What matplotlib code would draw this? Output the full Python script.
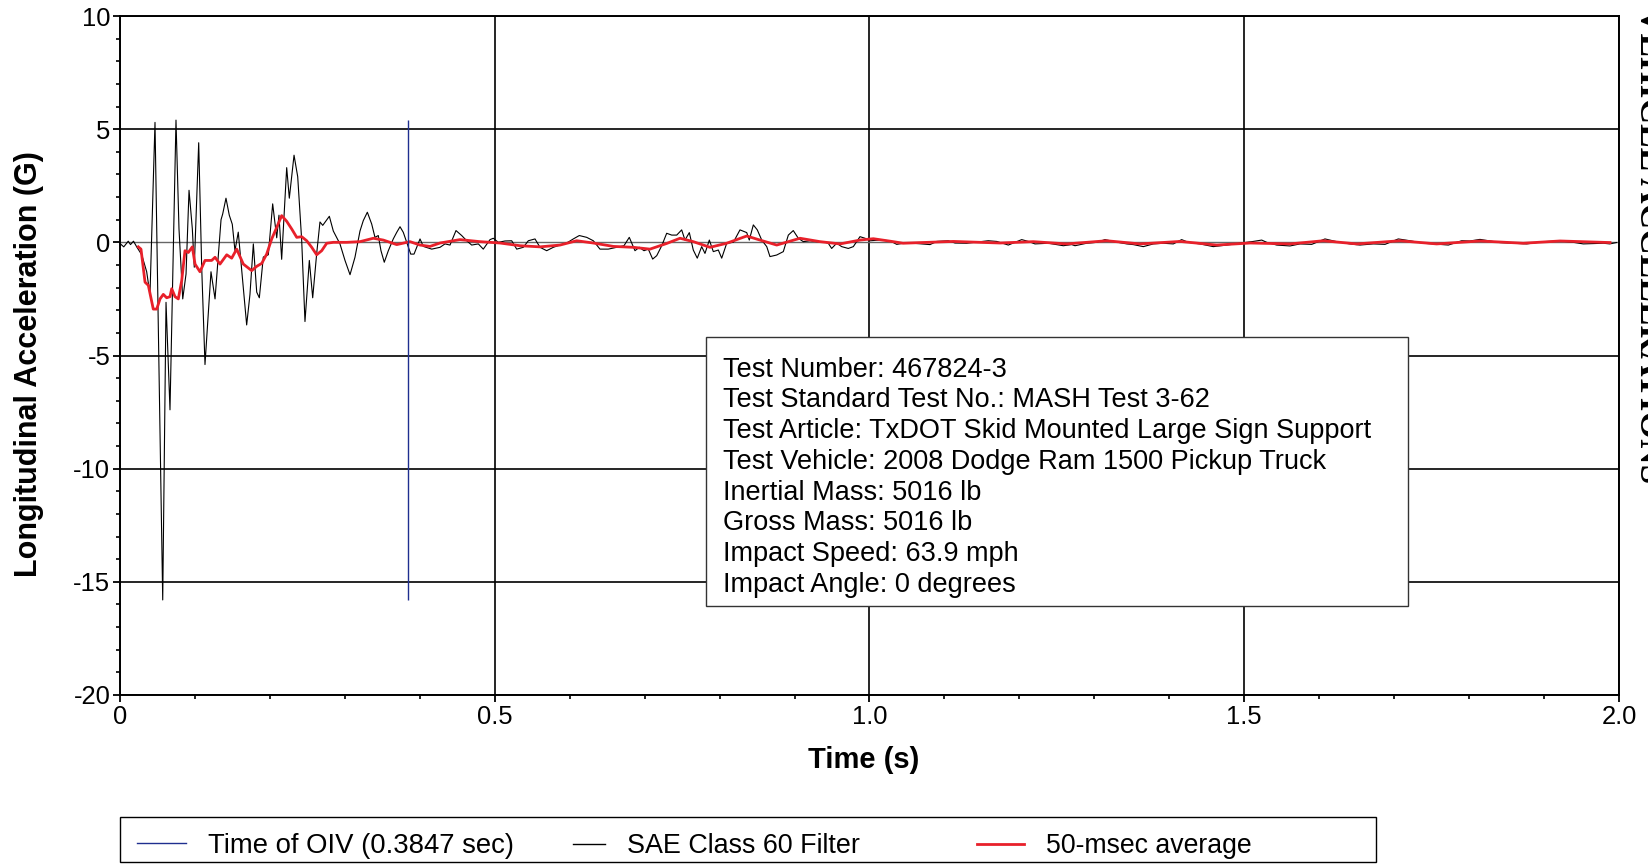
import matplotlib
matplotlib.use("Agg")
import matplotlib.pyplot as plt
from matplotlib.lines import Line2D
from matplotlib.patches import Rectangle

plt.rcParams['axes.unicode_minus'] = False
plt.rcParams['font.family'] = ['Liberation Sans', 'DejaVu Sans']

# ---------------- data ----------------
oiv_time = 0.3847

sae_t = [0.000, 0.005, 0.011, 0.014, 0.018, 0.0223, 0.0290, 0.0356, 0.0400, 0.0467,
         0.0570, 0.0614, 0.0667, 0.0747, 0.0787, 0.0837, 0.0881, 0.0921, 0.0965, 0.0991,
         0.1050, 0.1090, 0.1134, 0.1214, 0.1268, 0.1348, 0.1370, 0.1414, 0.1458, 0.1498,
         0.1534, 0.1578, 0.1624, 0.1690, 0.1734, 0.1779, 0.1824, 0.1859, 0.1912, 0.1979,
         0.2037, 0.2091, 0.2121, 0.2157, 0.2224, 0.2259, 0.2322, 0.2371, 0.2424, 0.2468,
         0.2526, 0.2571, 0.2624, 0.2668, 0.2705, 0.2749, 0.2793, 0.2846, 0.2935, 0.3002,
         0.3069, 0.3135, 0.3202, 0.3246, 0.3300, 0.3358, 0.3402, 0.3446, 0.3482, 0.3526,
         0.3580, 0.3646, 0.3692, 0.3736, 0.3780, 0.3833, 0.3879, 0.3923, 0.3959, 0.4003,
         0.4047, 0.4159, 0.4270, 0.4336, 0.4403, 0.4483, 0.4559, 0.4626, 0.4692, 0.4781,
         0.4847, 0.4937, 0.4981, 0.5047, 0.5137, 0.5226, 0.5293, 0.5381, 0.5448, 0.5537,
         0.5604, 0.5693, 0.5781, 0.5871, 0.5960, 0.6048, 0.6128, 0.6227, 0.6315, 0.6404,
         0.6515, 0.6627, 0.6724, 0.6795, 0.6871, 0.6929, 0.6991, 0.7049, 0.7107, 0.7161,
         0.7228, 0.7294, 0.7361, 0.7428, 0.7494, 0.7538, 0.7596, 0.7649, 0.7702, 0.7761,
         0.7805, 0.7863, 0.7916, 0.7983, 0.8028, 0.8095, 0.8183, 0.8272, 0.8362, 0.8396,
         0.8450, 0.8503, 0.8562, 0.8629, 0.8672, 0.8762, 0.8850, 0.8917, 0.8983, 0.9050,
         0.9117, 0.9206, 0.9295, 0.9384, 0.9450, 0.9495, 0.9562, 0.9629, 0.9717, 0.9784,
         0.9873, 0.9940, 1.0007, 1.0140, 1.0273, 1.0363, 1.0451, 1.0585, 1.0807, 1.0897,
         1.1052, 1.1141, 1.1297, 1.1585, 1.1697, 1.1852, 1.1941, 1.2031, 1.2119, 1.2208,
         1.2386, 1.2586, 1.2698, 1.2742, 1.2898, 1.3031, 1.3142, 1.3253, 1.3432, 1.3520,
         1.3653, 1.3787, 1.3920, 1.4053, 1.4165, 1.4254, 1.4410, 1.4587, 1.4766, 1.4943,
         1.5121, 1.5233, 1.5300, 1.5433, 1.5610, 1.5744, 1.5900, 1.6077, 1.6233, 1.6411,
         1.6544, 1.6722, 1.6878, 1.7055, 1.7212, 1.7389, 1.7523, 1.7723, 1.7901, 1.8012,
         1.8145, 1.8279, 1.8412, 1.8590, 1.8769, 1.8990, 1.9213, 1.9390, 1.9524, 1.9791,
         1.9877, 1.9966]
sae_g = [-0.05, -0.20, 0.05, -0.10, 0.05, -0.20, -0.55, -1.30, -2.30, 5.30,
         -15.80, -2.65, -7.40, 5.40, 0.60, -2.50, -1.40, 2.30, 0.60, -1.10,
         4.40, -1.10, -5.40, -1.30, -2.50, 1.00, 1.25, 1.95, 1.20, 0.80,
         -0.37, 0.45, -1.25, -3.65, -2.30, -0.07, -2.20, -2.45, -0.65, -0.55,
         1.70, 0.20, 1.20, -0.75, 3.30, 1.95, 3.85, 2.90, 0.10, -3.50,
         -0.80, -2.45, -0.50, 0.90, 0.75, 0.95, 1.15, 0.50, -0.07, -0.80,
         -1.43, -0.66, 0.50, 0.96, 1.33, 0.81, 0.22, 0.30, -0.37, -0.88,
         -0.37, 0.15, 0.44, 0.69, 0.44, -0.07, -0.52, -0.52, -0.22, 0.15,
         -0.18, -0.30, -0.22, -0.07, -0.12, 0.52, 0.30, 0.07, -0.12, -0.07,
         -0.30, 0.12, 0.18, 0.00, 0.06, 0.07, -0.30, -0.22, 0.07, 0.15,
         -0.22, -0.37, -0.22, -0.12, -0.03, 0.15, 0.30, 0.22, 0.07, -0.30,
         -0.30, -0.22, -0.15, 0.22, -0.37, -0.22, -0.37, -0.30, -0.74, -0.59,
         -0.15, 0.40, 0.32, 0.32, 0.55, 0.10, 0.43, -0.34, -0.70, -0.19,
         -0.49, 0.10, -0.41, -0.34, -0.70, -0.04, 0.00, 0.55, 0.43, 0.10,
         0.77, 0.55, 0.10, -0.19, -0.63, -0.56, -0.41, 0.32, 0.52, 0.18,
         0.03, 0.07, 0.03, 0.03, -0.04, -0.27, -0.04, -0.19, -0.27, -0.19,
         0.25, 0.18, 0.07, 0.10, 0.07, -0.09, -0.04, -0.04, -0.10, 0.04,
         0.07, -0.03, -0.04, 0.07, 0.04, -0.12, 0.00, 0.12, 0.04, -0.07,
         -0.04, -0.15, -0.10, -0.15, -0.04, 0.00, 0.12, 0.04, -0.07, -0.10,
         -0.19, -0.07, -0.04, -0.07, 0.12, 0.00, -0.07, -0.19, -0.12, -0.04,
         0.04, 0.10, 0.00, -0.12, -0.16, -0.07, -0.09, 0.15, 0.03, -0.07,
         -0.12, -0.07, -0.09, 0.15, 0.07, -0.04, -0.07, -0.12, 0.07, 0.06,
         0.13, 0.06, -0.01, -0.04, -0.07, 0.03, 0.06, 0.00, -0.07, -0.04,
         -0.07, -0.01]

avg_t = [0.0244, 0.0280, 0.0334, 0.0378, 0.0444, 0.0490, 0.0534, 0.0578, 0.0623, 0.0667,
         0.0690, 0.0734, 0.0778, 0.0823, 0.0867, 0.0911, 0.0965, 0.1001, 0.1067, 0.1134,
         0.1223, 0.1268, 0.1334, 0.1424, 0.1490, 0.1557, 0.1645, 0.1757, 0.1824, 0.1891,
         0.1957, 0.2024, 0.2091, 0.2157, 0.2224, 0.2291, 0.2358, 0.2424, 0.2491, 0.2558,
         0.2624, 0.2691, 0.2758, 0.2846, 0.3025, 0.3202, 0.3380, 0.3513, 0.3692, 0.3869,
         0.4003, 0.4136, 0.4270, 0.4536, 0.4803, 0.5070, 0.5337, 0.5604, 0.5871, 0.6093,
         0.6315, 0.6582, 0.6849, 0.7071, 0.7294, 0.7472, 0.7649, 0.7872, 0.8095, 0.8362,
         0.8539, 0.8762, 0.9073, 0.9340, 0.9607, 0.9873, 1.0051, 1.0318, 1.0447, 1.1119,
         1.1741, 1.2186, 1.2631, 1.3165, 1.3609, 1.4143, 1.4632, 1.5077, 1.5610, 1.6055,
         1.6500, 1.7078, 1.7567, 1.8145, 1.8723, 1.9213, 1.9880]
avg_g = [-0.20, -0.30, -1.76, -1.90, -2.95, -2.95, -2.50, -2.30, -2.45, -2.40,
         -2.05, -2.40, -2.50, -1.70, -0.37, -0.45, -0.20, -0.96, -1.30, -0.80,
         -0.80, -0.66, -0.96, -0.55, -0.70, -0.30, -0.96, -1.25, -1.06, -0.93,
         -0.52, 0.15, 0.66, 1.18, 0.93, 0.59, 0.22, 0.25, 0.07, -0.22,
         -0.55, -0.37, -0.04, 0.00, 0.00, 0.03, 0.18, 0.10, -0.10, 0.03,
         -0.12, -0.18, -0.03, 0.12, 0.03, -0.03, -0.15, -0.20, -0.12, 0.07,
         -0.03, -0.18, -0.22, -0.30, -0.05, 0.18, 0.03, -0.22, -0.04, 0.28,
         0.10, -0.12, 0.18, 0.03, -0.07, 0.10, 0.16, 0.03, -0.04, 0.04,
         -0.03, 0.03, -0.07, 0.07, -0.07, 0.04, -0.12, -0.03, -0.07, 0.07,
         -0.07, 0.07, -0.07, 0.06, -0.04, 0.06, -0.01]

x_ticks = [0, 0.5, 1.0, 1.5, 2.0]
x_tick_labels = ['0', '0.5', '1.0', '1.5', '2.0']
y_ticks = [-20, -15, -10, -5, 0, 5, 10]

info_lines = [
    "Test Number: 467824-3",
    "Test Standard Test No.: MASH Test 3-62",
    "Test Article: TxDOT Skid Mounted Large Sign Support",
    "Test Vehicle: 2008 Dodge Ram 1500 Pickup Truck",
    "Inertial Mass: 5016 lb",
    "Gross Mass: 5016 lb",
    "Impact Speed: 63.9 mph",
    "Impact Angle: 0 degrees",
]
legend_labels = ["Time of OIV (0.3847 sec)", "SAE Class 60 Filter", "50-msec average"]

# ---------------- figure ----------------
W, H = 1648, 864
fig = plt.figure(figsize=(W / 100, H / 100), dpi=100)
ax = fig.add_axes([120 / W, 1 - 695 / H, 1499 / W, 679 / H])

blue = '#1f2f8f'
red = '#e8202a'

ax.plot(sae_t, sae_g, color='black', lw=0.8, zorder=3)
ax.plot(avg_t, avg_g, color=red, lw=2.0, zorder=4)
ax.vlines(oiv_time, min(sae_g), max(sae_g), color=blue, lw=1.0, zorder=5)

ax.set_xlim(0, 2.0)
ax.set_ylim(-20, 10)
ax.set_xticks(x_ticks)
ax.set_xticklabels(x_tick_labels)
ax.set_yticks(y_ticks)
ax.set_yticklabels([str(v) for v in y_ticks])
ax.set_xticks([i / 10 for i in range(21)], minor=True)
ax.set_yticks(list(range(-20, 11)), minor=True)
ax.tick_params(axis='both', which='major', direction='out', length=5, width=1.3,
               labelsize=18.4, pad=2, color='black')
ax.tick_params(axis='both', which='minor', direction='out', length=3, width=1.2)

ax.grid(True, which='major', color='black', lw=1.2, zorder=1)
for line, v in zip(ax.get_ygridlines(), y_ticks):
    if v == 0:
        line.set_color('#666666')
        line.set_linewidth(1.0)
for s in ax.spines.values():
    s.set_linewidth(1.4)
    s.set_color('black')

# axis labels
fig.text(29 / W, 1 - 364 / H, "Longitudinal Acceleration (G)", rotation=90,
         ha='center', va='center', fontsize=22, fontweight='bold')
fig.text(864 / W, 1 - 760 / H, "Time (s)", ha='center', va='center',
         fontsize=21, fontweight='bold')

# info box
ax.add_patch(Rectangle((0.391, 0.131), 0.468, 0.396, transform=ax.transAxes,
                       facecolor='white', edgecolor='#333333', lw=1.0, zorder=6))
for i, txt in enumerate(info_lines):
    ax.text(0.4023, 0.4790 - i * 0.0452, txt, transform=ax.transAxes,
            ha='left', va='center', fontsize=19.5, zorder=7)

# legend
fig.patches.append(Rectangle((120 / W, 1 - 862 / H), 1256 / W, 45 / H,
                             transform=fig.transFigure, facecolor='white',
                             edgecolor='black', lw=1.0))
handles = [Line2D([], [], color=blue, lw=1.0),
           Line2D([], [], color='black', lw=1.0),
           Line2D([], [], color=red, lw=2.0)]
starts = [137, 573, 977]
hlens = [1.78, 1.2, 1.78]
fsizes = [19.8, 19.4, 19.2]
for h, lab, sx, hl, fs in zip(handles, legend_labels, starts, hlens, fsizes):
    fig.legend(handles=[h], labels=[lab], loc='center left',
               bbox_to_anchor=(sx / W, 1 - 846 / H), frameon=False,
               borderpad=0, borderaxespad=0, handlelength=hl,
               handletextpad=0.8, fontsize=fs)

# right-side clipped title
fig.text(1640 / W, 1 - 245 / H, "VEHICLE ACCELERATIONS", rotation=-90,
         rotation_mode='anchor', ha='center', va='baseline',
         fontsize=25.5, fontweight='bold', family=['Liberation Serif', 'DejaVu Serif'])

fig.savefig("out.png", dpi=100)
